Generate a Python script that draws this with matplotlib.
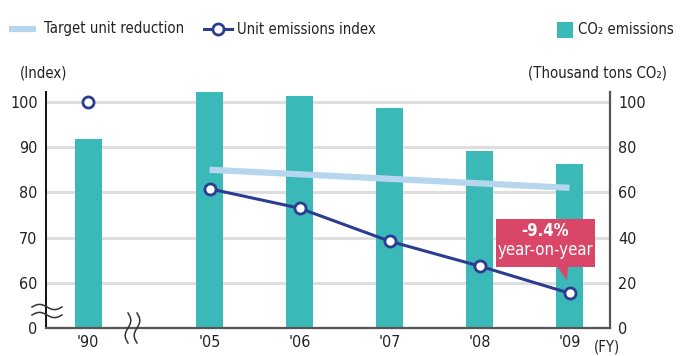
import numpy as np
import matplotlib
matplotlib.use("Agg")
import matplotlib.pyplot as plt
from matplotlib.lines import Line2D
from matplotlib.patches import Rectangle, Polygon

plt.rcParams['font.family'] = ['DejaVu Sans']
plt.rcParams['font.stretch'] = 'condensed'

# ---- data -------------------------------------------------------------
years = ["'90", "'05", "'06", "'07", "'08", "'09"]
co2_emissions = [83.6, 104.4, 102.7, 97.3, 78.3, 72.6]   # thousand tons CO2
unit_index = [100, 80.8, 76.5, 69.2, 63.7, 57.7]          # FY1990 = 100
target_index = [85.0, 81.0]                               # FY2005 -> FY2009
left_tick_labels = [0, 60, 70, 80, 90, 100]
right_ticks = [0, 20, 40, 60, 80, 100]

# ---- colours ----------------------------------------------------------
BAR = '#3bb8b8'
TARGET = '#b6d6f0'
INDEX = '#2b3d91'
CALLOUT = '#d94668'
GRID = '#dedede'
TXT = '#222222'
FS = 11.5      # tick labels
FS_L = 10.7    # legend and unit labels

W, H = 685, 356
fig = plt.figure(figsize=(W / 100, H / 100), dpi=100)
ax = fig.add_axes([46 / W, 28 / H, 564 / W, 236 / H])


def fpx(x, y):
    """figure pixel (from top-left) -> figure fraction"""
    return np.asarray(x) / W, 1 - np.asarray(y) / H


def idx_to_axis(v):
    # left scale is broken below 60: index 50..100 spans the full height
    return (np.asarray(v, dtype=float) - 50) * 2


# gap after the first year stands for the break in the time axis
n = len(years)
xpos = np.arange(n) + np.where(np.arange(n) > 0, 0.35, 0.0)

ax.set_xlim(-0.467, 5.8)
ax.set_ylim(0, 104.4)

for y in right_ticks[1:]:
    ax.axhline(y, color=GRID, lw=2.2, zorder=0)

ax.bar(xpos, co2_emissions, width=0.3, color=BAR, zorder=2)

ax.plot(xpos[[1, -1]], idx_to_axis(target_index), color=TARGET, lw=4.5,
        solid_capstyle='butt', zorder=3)

ax.plot(xpos[1:], idx_to_axis(unit_index[1:]), color=INDEX, lw=2.2,
        marker='o', ms=8, mfc='white', mec=INDEX, mew=2, zorder=4)
ax.plot(xpos[:1], idx_to_axis(unit_index[:1]), ls='none',
        marker='o', ms=8, mfc='white', mec=INDEX, mew=2, zorder=4)

# year-on-year callout above the last point
yoy = (unit_index[-1] / unit_index[-2] - 1) * 100
lx, ly = xpos[-1], idx_to_axis(unit_index[-1])
box_l, box_r = lx - 0.817, lx + 0.283
box_b, box_t = ly + 11.6, ly + 32.8
ax.add_patch(Rectangle((box_l, box_b), box_r - box_l, box_t - box_b,
                       facecolor=CALLOUT, edgecolor='none', zorder=6))
ax.add_patch(Polygon([(lx - 0.139, box_b + 0.2), (lx - 0.017, box_b + 0.2),
                      (lx - 0.028, ly + 5.8)],
                     closed=True, facecolor=CALLOUT, edgecolor='none', zorder=6))
cx = (box_l + box_r) / 2
ax.text(cx, ly + 27.5, f"{yoy:.1f}%", color='white', fontsize=12,
        fontweight='bold', ha='center', va='center', zorder=7)
ax.text(cx, ly + 19.1, "year-on-year", color='white', fontsize=12,
        ha='center', va='center', zorder=7)

# axes styling
ax.set_yticks(right_ticks)
ax.set_yticklabels([str(v) for v in left_tick_labels])
ax.set_xticks(xpos)
ax.set_xticklabels(years)
ax.tick_params(axis='both', length=0, labelsize=FS, colors=TXT)
ax.tick_params(axis='y', pad=6)
ax.tick_params(axis='x', pad=5)
ax.spines['top'].set_visible(False)
ax.spines['right'].set_visible(False)
ax.spines['left'].set_color('#111111')
ax.spines['left'].set_linewidth(1.4)
ax.spines['bottom'].set_color('#555555')
ax.spines['bottom'].set_linewidth(1.6)

ax2 = ax.twinx()
ax2.set_ylim(ax.get_ylim())
ax2.set_yticks(right_ticks)
ax2.tick_params(axis='y', length=0, labelsize=FS, colors=TXT, pad=6)
for s in ('top', 'left', 'bottom'):
    ax2.spines[s].set_visible(False)
ax2.spines['right'].set_color('#555555')
ax2.spines['right'].set_linewidth(1.6)

# break marks
t = np.linspace(0, 1, 60)
for yc in (307, 315):
    xs = 32 + 30 * t
    ys = yc - 2.6 * np.sin(2 * np.pi * t)
    fig.add_artist(Line2D(*fpx(xs, ys), transform=fig.transFigure,
                          color='#333333', lw=1.1))
for xc in (128, 137):
    ys = 313 + 30 * t
    xs = xc + 2.8 * np.sin(2 * np.pi * t)
    fig.add_artist(Line2D(*fpx(xs, ys), transform=fig.transFigure,
                          color='#333333', lw=1.1))

# legend row
fig.add_artist(Line2D(*fpx([9, 36], [29, 29]), transform=fig.transFigure,
                      color=TARGET, lw=4.5, solid_capstyle='butt'))
fig.text(*fpx(44, 29), "Target unit reduction", fontsize=FS_L, color=TXT,
         ha='left', va='center')
fig.add_artist(Line2D(*fpx([204, 232], [29, 29]), transform=fig.transFigure,
                      color=INDEX, lw=2.2))
fig.add_artist(Line2D(*fpx([218], [29]), transform=fig.transFigure,
                      ls='none', marker='o', ms=8, mfc='white', mec=INDEX, mew=2))
fig.text(*fpx(237, 29), "Unit emissions index", fontsize=FS_L, color=TXT,
         ha='left', va='center')
fig.add_artist(Rectangle(fpx(557, 38), 16 / W, 16 / H, transform=fig.transFigure,
                         facecolor=BAR, edgecolor='none'))
fig.text(*fpx(578, 29), "CO₂ emissions", fontsize=FS_L, color=TXT,
         ha='left', va='center')

# unit labels
fig.text(*fpx(20, 73), "(Index)", fontsize=FS_L, color=TXT, ha='left', va='center')
fig.text(*fpx(667, 73), "(Thousand tons CO₂)", fontsize=FS_L, color=TXT,
         ha='right', va='center')
fig.text(*fpx(594, 355), "(FY)", fontsize=FS_L, color=TXT, ha='left', va='bottom')

fig.savefig("out.png", dpi=100)
